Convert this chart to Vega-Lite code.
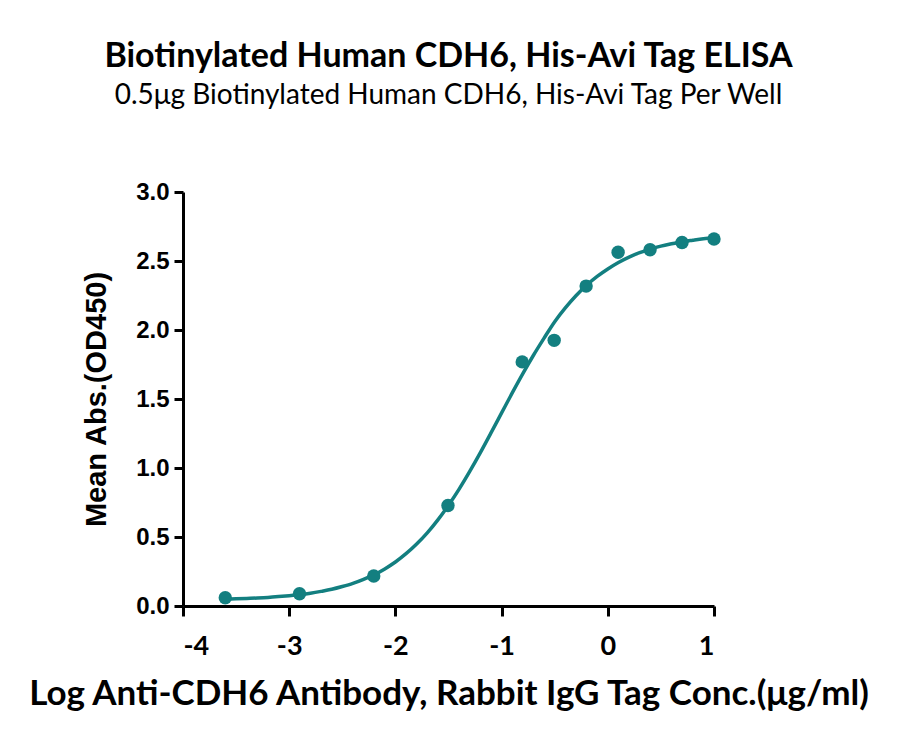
{
  "$schema": "https://vega.github.io/schema/vega-lite/v6.json",
  "autosize": {"type": "none"},
  "width": 531,
  "height": 414,
  "padding": {"left": 183, "top": 192, "right": 186, "bottom": 139},
  "background": "white",
  "title": {
    "text": "Biotinylated Human CDH6, His-Avi Tag ELISA",
    "subtitle": "0.5μg Biotinylated Human CDH6, His-Avi Tag Per Well",
    "font": "Lato",
    "fontSize": 34,
    "fontWeight": "bold",
    "color": "#000000",
    "subtitleFont": "Lato",
    "subtitleFontSize": 28,
    "subtitleColor": "#000000",
    "subtitlePadding": 8,
    "anchor": "middle",
    "offset": 70
  },
  "datasets": {
    "points": [
      {"logc": -3.602, "od": 0.060},
      {"logc": -2.903, "od": 0.089},
      {"logc": -2.204, "od": 0.217},
      {"logc": -1.505, "od": 0.728},
      {"logc": -0.806, "od": 1.769},
      {"logc": -0.505, "od": 1.925},
      {"logc": -0.204, "od": 2.318},
      {"logc": 0.097, "od": 2.564},
      {"logc": 0.398, "od": 2.581},
      {"logc": 0.699, "od": 2.634},
      {"logc": 1.0, "od": 2.660}
    ],
    "fit": [
      {"logc": -3.6, "od": 0.049},
      {"logc": -3.5, "od": 0.052},
      {"logc": -3.4, "od": 0.055},
      {"logc": -3.3, "od": 0.058},
      {"logc": -3.2, "od": 0.062},
      {"logc": -3.1, "od": 0.068},
      {"logc": -3.0, "od": 0.075},
      {"logc": -2.9, "od": 0.083},
      {"logc": -2.8, "od": 0.093},
      {"logc": -2.7, "od": 0.106},
      {"logc": -2.6, "od": 0.121},
      {"logc": -2.5, "od": 0.141},
      {"logc": -2.4, "od": 0.164},
      {"logc": -2.3, "od": 0.193},
      {"logc": -2.2, "od": 0.227},
      {"logc": -2.1, "od": 0.269},
      {"logc": -2.0, "od": 0.319},
      {"logc": -1.9, "od": 0.379},
      {"logc": -1.8, "od": 0.449},
      {"logc": -1.7, "od": 0.530},
      {"logc": -1.6, "od": 0.624},
      {"logc": -1.5, "od": 0.730},
      {"logc": -1.4, "od": 0.847},
      {"logc": -1.3, "od": 0.975},
      {"logc": -1.2, "od": 1.111},
      {"logc": -1.1, "od": 1.254},
      {"logc": -1.0, "od": 1.399},
      {"logc": -0.9, "od": 1.544},
      {"logc": -0.8, "od": 1.684},
      {"logc": -0.7, "od": 1.817},
      {"logc": -0.6, "od": 1.941},
      {"logc": -0.5, "od": 2.060},
      {"logc": -0.4, "od": 2.160},
      {"logc": -0.3, "od": 2.248},
      {"logc": -0.2, "od": 2.324},
      {"logc": -0.1, "od": 2.388},
      {"logc": 0.0, "od": 2.442},
      {"logc": 0.1, "od": 2.489},
      {"logc": 0.2, "od": 2.528},
      {"logc": 0.3, "od": 2.560},
      {"logc": 0.4, "od": 2.586},
      {"logc": 0.5, "od": 2.608},
      {"logc": 0.6, "od": 2.625},
      {"logc": 0.7, "od": 2.640},
      {"logc": 0.8, "od": 2.651},
      {"logc": 0.9, "od": 2.661},
      {"logc": 1.0, "od": 2.668}
    ]
  },
  "encoding": {
    "x": {
      "field": "logc",
      "type": "quantitative",
      "title": "Log Anti-CDH6 Antibody, Rabbit IgG Tag Conc.(μg/ml)",
      "scale": {"domain": [-4, 1], "nice": false, "zero": false},
      "axis": {
        "values": [-4, -3, -2, -1, 0, 1],
        "labelExpr": "toString(datum.value)",
        "grid": false,
        "domainColor": "#000000",
        "domainWidth": 3,
        "tickColor": "#000000",
        "tickWidth": 3,
        "tickSize": 10,
        "labelFont": "Lato",
        "labelFontSize": 27,
        "labelFontWeight": "bold",
        "labelColor": "#000000",
        "labelPadding": 17,
        "titleFont": "Lato",
        "titleFontSize": 35,
        "titleFontWeight": "bold",
        "titleColor": "#000000",
        "titlePadding": 17
      }
    },
    "y": {
      "field": "od",
      "type": "quantitative",
      "title": "Mean Abs.(OD450)",
      "scale": {"domain": [0, 3], "nice": false},
      "axis": {
        "values": [0, 0.5, 1, 1.5, 2, 2.5, 3],
        "format": ".1f",
        "grid": false,
        "domainColor": "#000000",
        "domainWidth": 3,
        "tickColor": "#000000",
        "tickWidth": 3,
        "tickSize": 9,
        "labelFont": "Liberation Sans",
        "labelFontSize": 24,
        "labelFontWeight": "bold",
        "labelColor": "#000000",
        "labelPadding": 5,
        "titleFont": "Liberation Sans",
        "titleFontSize": 29,
        "titleFontWeight": "bold",
        "titleColor": "#000000",
        "titlePadding": 24
      }
    }
  },
  "layer": [
    {
      "data": {"name": "fit"},
      "mark": {"type": "line", "color": "#137f80", "strokeWidth": 3.5, "interpolate": "monotone"}
    },
    {
      "data": {"name": "points"},
      "mark": {"type": "circle", "color": "#137f80", "opacity": 1, "size": 180}
    }
  ],
  "config": {"view": {"stroke": null}}
}
